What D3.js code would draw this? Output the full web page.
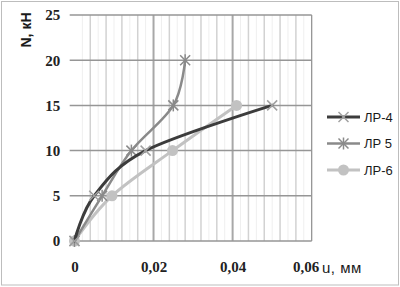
<!DOCTYPE html>
<html>
<head>
<meta charset="utf-8">
<script src="https://cdn.jsdelivr.net/npm/d3@7"></script>
<style>
  body { margin: 0; background: #fff; }
  svg { display: block; }
  .tick text { font-family: "Liberation Serif", "DejaVu Serif", serif; font-size: 15px; font-weight: bold; fill: #222; }
</style>
</head>
<body>
<div class="chart"></div>
<script>
// series names
var seriesNames = ["ЛР-4", "ЛР 5", "ЛР-6"];

// displacement u, mm / load N, kN
var lr4U = [0, 0.005, 0.018, 0.05];
var lr4N = [0, 5, 10, 15];
var lr5U = [0, 0.007, 0.0144, 0.025, 0.028];
var lr5N = [0, 5, 10, 15, 20];
var lr6U = [0, 0.0095, 0.0248, 0.041];
var lr6N = [0, 5, 10, 15];

// ticks
var xTicks = [0, 0.02, 0.04, 0.06];
var yTicks = [0, 5, 10, 15, 20, 25];

var width = 400, height = 287;

var svg = d3.select(".chart").append("svg")
	.attr("width", width)
	.attr("height", height);

// outer chart border
svg.append("rect")
	.attr("x", 1.5).attr("y", 1.5)
	.attr("width", width - 3).attr("height", height - 3.5)
	.attr("fill", "none")
	.attr("stroke", "#bdbdbd");

// scales (x starts a bit below zero, like the source)
var xScale = d3.scaleLinear().domain([-0.0012, 0.06]).range([69.7, 311.7]);
var yScale = d3.scaleLinear().domain([0, 25]).range([241, 15]);

// very faint in-between lines
d3.range(0.002, 0.06, 0.004).forEach(function (v) {
	svg.append("line")
		.attr("x1", xScale(v)).attr("x2", xScale(v))
		.attr("y1", yScale(25)).attr("y2", yScale(0))
		.attr("stroke", "#efefef")
		.attr("stroke-width", 1);
});

// vertical grid
d3.range(1, 15).forEach(function (i) {
	var v = i * 0.004;
	var major = (i % 5 === 0);
	svg.append("line")
		.attr("x1", xScale(v)).attr("x2", xScale(v))
		.attr("y1", yScale(25)).attr("y2", yScale(0))
		.attr("stroke", major ? "#a8a8a8" : "#d2d2d2")
		.attr("stroke-width", major ? 2 : 1.5);
});

// right border of plot
svg.append("line")
	.attr("x1", xScale(0.06)).attr("x2", xScale(0.06))
	.attr("y1", yScale(25)).attr("y2", yScale(0))
	.attr("stroke", "#8c8c8c")
	.attr("stroke-width", 1.2);

// horizontal grid
yTicks.forEach(function (v) {
	svg.append("line")
		.attr("x1", xScale(-0.0012)).attr("x2", xScale(0.06))
		.attr("y1", yScale(v)).attr("y2", yScale(v))
		.attr("stroke", "#969696")
		.attr("stroke-width", 1.5);
});

// axes
var fmt = function (d) {
	return d === 0 ? "0" : d3.format(".2f")(d).replace(".", ",");
};

var xAxis = svg.append("g")
	.attr("transform", "translate(0," + yScale(0) + ")")
	.call(d3.axisBottom(xScale).tickValues(xTicks).tickFormat(fmt).tickSize(0).tickPadding(20));
xAxis.select(".domain").remove();

var yAxis = svg.append("g")
	.attr("transform", "translate(" + xScale(-0.0012) + ",0)")
	.call(d3.axisLeft(yScale).tickValues(yTicks).tickSize(0).tickPadding(9.5));
yAxis.select(".domain").remove();

xAxis.attr("font-family", null).attr("font-size", null);
yAxis.attr("font-family", null).attr("font-size", null);

// shift last x label left a bit, as in the source
xAxis.selectAll(".tick text").filter(function (d) { return d === 0.06; })
	.attr("dx", -6);

// axis titles
svg.append("text")
	.attr("transform", "translate(31,30) rotate(-90)")
	.attr("text-anchor", "middle")
	.attr("font-family", "'Liberation Sans', sans-serif")
	.attr("font-weight", "bold")
	.attr("font-size", 14)
	.attr("fill", "#1a1a1a")
	.text("N, кН");

svg.append("text")
	.attr("x", 322)
	.attr("y", 273)
	.attr("font-family", "'Liberation Sans', sans-serif")
	.attr("font-size", 15)
	.attr("fill", "#1a1a1a")
	.attr("letter-spacing", 0.5)
	.text("u, мм");

// series
var series = [
	{ name: seriesNames[2], u: lr6U, n: lr6N, color: "#c2c2c2", width: 3, marker: "circle", mcolor: "#c2c2c2" },
	{ name: seriesNames[1], u: lr5U, n: lr5N, color: "#8a8a8a", width: 2.5, marker: "star", mcolor: "#8a8a8a" },
	{ name: seriesNames[0], u: lr4U, n: lr4N, color: "#3c3c3c", width: 3, marker: "cross", mcolor: "#a0a0a0" }
];

var line = d3.line()
	.x(function (d) { return xScale(d[0]); })
	.y(function (d) { return yScale(d[1]); })
	.curve(d3.curveCardinal.tension(0));

function drawMarker(g, kind, color, cx, cy) {
	if (kind === "circle") {
		g.append("circle").attr("cx", cx).attr("cy", cy).attr("r", 5.5).attr("fill", color);
	} else {
		var s = 5;
		g.append("line").attr("x1", cx - s).attr("y1", cy - s).attr("x2", cx + s).attr("y2", cy + s)
			.attr("stroke", color).attr("stroke-width", 1.5);
		g.append("line").attr("x1", cx - s).attr("y1", cy + s).attr("x2", cx + s).attr("y2", cy - s)
			.attr("stroke", color).attr("stroke-width", 1.5);
		if (kind === "star") {
			g.append("line").attr("x1", cx).attr("y1", cy - s - 1).attr("x2", cx).attr("y2", cy + s + 1)
				.attr("stroke", color).attr("stroke-width", 1.5);
		}
	}
}

series.forEach(function (s) {
	var pts = s.u.map(function (u, i) { return [u, s.n[i]]; });
	var g = svg.append("g");
	g.append("path")
		.datum(pts)
		.attr("d", line)
		.attr("fill", "none")
		.attr("stroke", s.color)
		.attr("stroke-width", s.width)
		.attr("stroke-linecap", "round");
	pts.forEach(function (p) {
		drawMarker(g, s.marker, s.mcolor, xScale(p[0]), yScale(p[1]));
	});
});

// legend
var legendOrder = [series[2], series[1], series[0]];
legendOrder.forEach(function (s, i) {
	var y = 117 + i * 26.5;
	var g = svg.append("g");
	g.append("line")
		.attr("x1", 327).attr("x2", 360)
		.attr("y1", y).attr("y2", y)
		.attr("stroke", s.color)
		.attr("stroke-width", s.width);
	drawMarker(g, s.marker, s.mcolor, 343.5, y);
	g.append("text")
		.attr("x", 364)
		.attr("y", y)
		.attr("dy", "0.35em")
		.attr("font-family", "'Liberation Sans', sans-serif")
		.attr("font-size", 13)
		.attr("fill", "#1a1a1a")
		.text(s.name);
});
</script>
</body>
</html>
